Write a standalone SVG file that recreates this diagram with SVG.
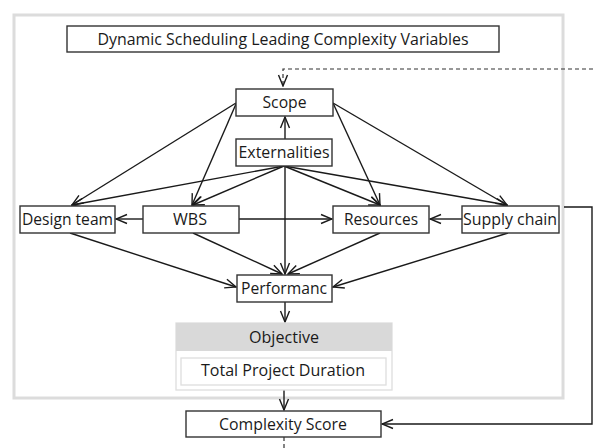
<svg xmlns="http://www.w3.org/2000/svg" width="593" height="448" viewBox="0 0 593 448">
<defs>
<marker id="arr" markerUnits="userSpaceOnUse" markerWidth="13" markerHeight="13" viewBox="0 0 13 13" refX="12" refY="6.5" orient="auto">
<path d="M1,2 L12,6.5 L1,11" fill="none" stroke="#1a1a1a" stroke-width="1.4"/>
</marker>
</defs>
<style>
.box{fill:#fff;stroke:#333;stroke-width:1.4}
.lt{fill:#fff;stroke:#dedede;stroke-width:1.3}
.t{font-family:"Open Sans","Liberation Sans",sans-serif;font-size:16px;fill:#1a1a1a;text-anchor:middle}
.e{fill:none;stroke:#1a1a1a;stroke-width:1.4;marker-end:url(#arr)}
.d{fill:none;stroke:#333;stroke-width:1.2;stroke-dasharray:4,3}
</style>
<rect width="593" height="448" fill="#fff"/>
<rect id="frame" x="14" y="15" width="549" height="383" fill="none" stroke="#dcdcdc" stroke-width="3"/>
<g id="title"><rect class="box" x="67" y="26" width="432" height="26"/><text class="t" x="283" y="45" textLength="371" lengthAdjust="spacingAndGlyphs">Dynamic Scheduling Leading Complexity Variables</text></g>
<g id="connectors">
<path class="d" d="M593,69 H283 V86" style="marker-end:url(#arr)"/>
<path class="e" d="M285,139 V117"/>
<path class="e" d="M236,103 L72,205"/>
<path class="e" d="M236,104 L192,205"/>
<path class="e" d="M333,103 L380,205"/>
<path class="e" d="M333,103 L507,205"/>
<path class="e" d="M284,166 L72,205"/>
<path class="e" d="M284,166 L193,205"/>
<path class="e" d="M284,166 L380,205"/>
<path class="e" d="M284,166 L507,205"/>
<path class="e" d="M285,166 V274"/>
<path class="e" d="M143,219 H116"/>
<path class="e" d="M239,219 H332"/>
<path class="e" d="M462,219 H430"/>
<path class="e" d="M70,233 L236,287"/>
<path class="e" d="M193,233 L282,274"/>
<path class="e" d="M380,233 L288,274"/>
<path class="e" d="M508,233 L333,287"/>
<path class="e" d="M285,302 V322"/>
<path class="e" d="M284,390 V410"/>
<path class="d" d="M284,437 V448"/>
<path class="e" d="M564,207 H592 V424 H382"/>
</g>
<g id="scope"><rect class="box" x="236" y="89" width="97" height="27"/><text class="t" x="284.5" y="107.5" textLength="44" lengthAdjust="spacingAndGlyphs">Scope</text></g>
<g id="externalities"><rect class="box" x="236" y="139" width="96" height="27"/><text class="t" x="284" y="157.5" textLength="91" lengthAdjust="spacingAndGlyphs">Externalities</text></g>
<g id="design-team"><rect class="box" x="20" y="206" width="95" height="27"/><text class="t" x="67.5" y="224.5" textLength="91" lengthAdjust="spacingAndGlyphs">Design team</text></g>
<g id="wbs"><rect class="box" x="143" y="206" width="96" height="27"/><text class="t" x="190" y="224.5" textLength="34" lengthAdjust="spacingAndGlyphs">WBS</text></g>
<g id="resources"><rect class="box" x="333" y="206" width="96" height="27"/><text class="t" x="381" y="224.5" textLength="74" lengthAdjust="spacingAndGlyphs">Resources</text></g>
<g id="supply-chain"><rect class="box" x="462" y="206" width="97" height="27"/><text class="t" x="510" y="224.5" textLength="94" lengthAdjust="spacingAndGlyphs">Supply chain</text></g>
<g id="performanc"><rect class="box" x="237" y="275" width="95" height="27"/><text class="t" x="284" y="293.5" textLength="86" lengthAdjust="spacingAndGlyphs">Performanc</text></g>
<g id="objective">
<rect x="176" y="323" width="216" height="67" fill="#fff" stroke="#dedede" stroke-width="1.3"/>
<rect x="176" y="323" width="216" height="28" fill="#d9d9d9"/>
<text class="t" x="284" y="343" textLength="70" lengthAdjust="spacingAndGlyphs">Objective</text>
<rect class="lt" x="181" y="358" width="205" height="27"/>
<text class="t" x="283" y="375.5" textLength="164" lengthAdjust="spacingAndGlyphs">Total Project Duration</text>
</g>
<g id="complexity-score"><rect class="box" x="186" y="411" width="195" height="26" stroke="#999"/><text class="t" x="283" y="429.5" textLength="128" lengthAdjust="spacingAndGlyphs">Complexity Score</text></g>
</svg>
